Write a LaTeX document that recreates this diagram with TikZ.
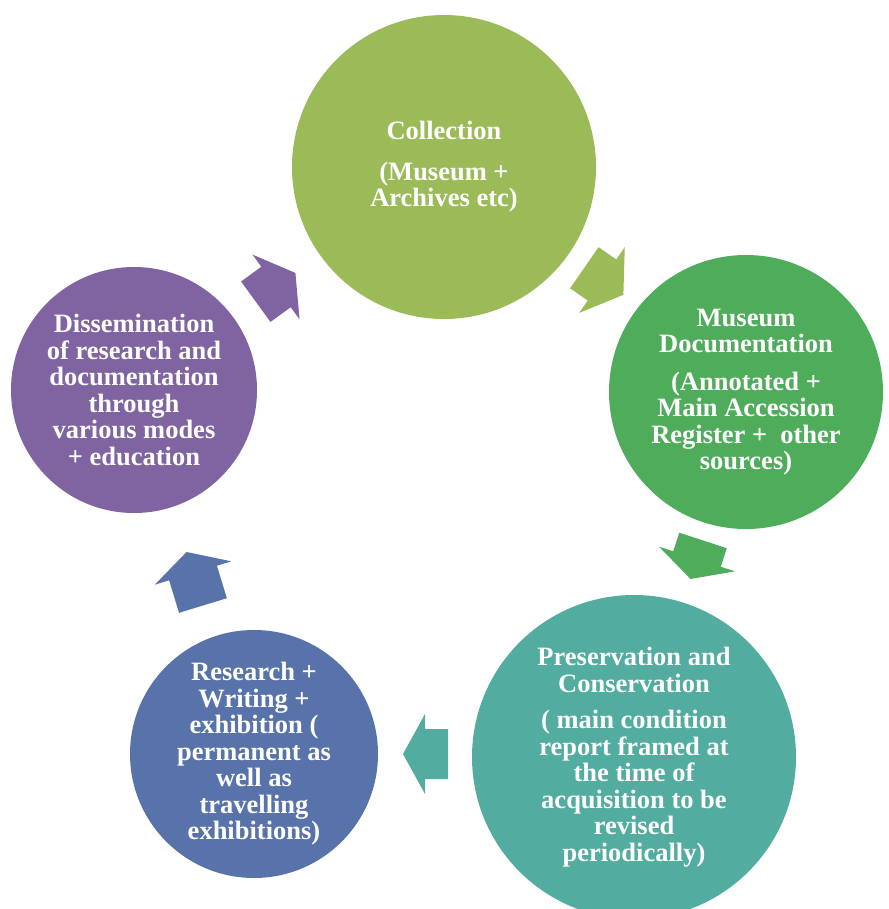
\documentclass[tikz,border=0pt]{standalone}
\usepackage{fontspec}
\setmainfont{Liberation Serif}
\definecolor{olivegreen}{HTML}{9BBB59}
\definecolor{leafgreen}{HTML}{4EAC5B}
\definecolor{tealtone}{HTML}{52ADA0}
\definecolor{slateblue}{HTML}{5873AA}
\definecolor{violet}{HTML}{8064A2}
% block arrow: fill colour, base centre x, y, angle, body length, head length
\newcommand\cyclearrow[6]{%
  \fill[#1, shift={(#2,#3)}, rotate=#4]
    (-#5,-25) -- (0,-25) -- (0,-40) -- (#6,0) -- (0,40) -- (0,25) -- (-#5,25) -- cycle;}
\begin{document}
\begin{tikzpicture}[x=1pt,y=-1pt,
  bubble/.style={circle, inner sep=0pt, draw=none},
  caption/.style={align=center, text=white, inner sep=0pt,
    font=\bfseries\fontsize{26.5}{26.5}\selectfont},
]
\useasboundingbox (0,0) rectangle (888,909);

% stages of the cycle
\node[bubble, fill=olivegreen, minimum size=304pt] (collect) at (444,167) {};
\node[bubble, fill=leafgreen,  minimum size=274pt] (docu)    at (746,392) {};
\node[bubble, fill=tealtone,   minimum size=324pt] (preserve) at (634,757) {};
\node[bubble, fill=slateblue,  minimum size=248pt] (research) at (254,754) {};
\node[bubble, fill=violet,     minimum size=246pt] (dissem)  at (134,390) {};

\node[caption] at (collect) {Collection\\[14pt](Museum +\\Archives etc)};
\node[caption] at (docu) {Museum\\Documentation\\[11pt](Annotated +\\Main Accession\\Register +\ \ other\\sources)};
\node[caption] at (preserve) {Preservation and\\Conservation\\[10pt]( main condition\\report framed at\\the time of\\acquisition to be\\revised\\periodically)};
\node[caption] at (research) {Research +\\Writing +\\exhibition (\\permanent as\\well as\\travelling\\exhibitions)};
\node[caption] at (dissem) {Dissemination\\of research and\\documentation\\through\\various modes\\+ education};

% arrows between the stages
\cyclearrow{olivegreen}{602}{280}{-34.7}{21.5}{26}
\cyclearrow{leafgreen}{697}{559}{-108}{19.5}{21}
\cyclearrow{tealtone}{425}{754}{180}{23}{22}
\cyclearrow{slateblue}{193}{573}{107}{34}{22}
\cyclearrow{violet}{276}{287}{36}{25}{24}
\end{tikzpicture}
\end{document}
